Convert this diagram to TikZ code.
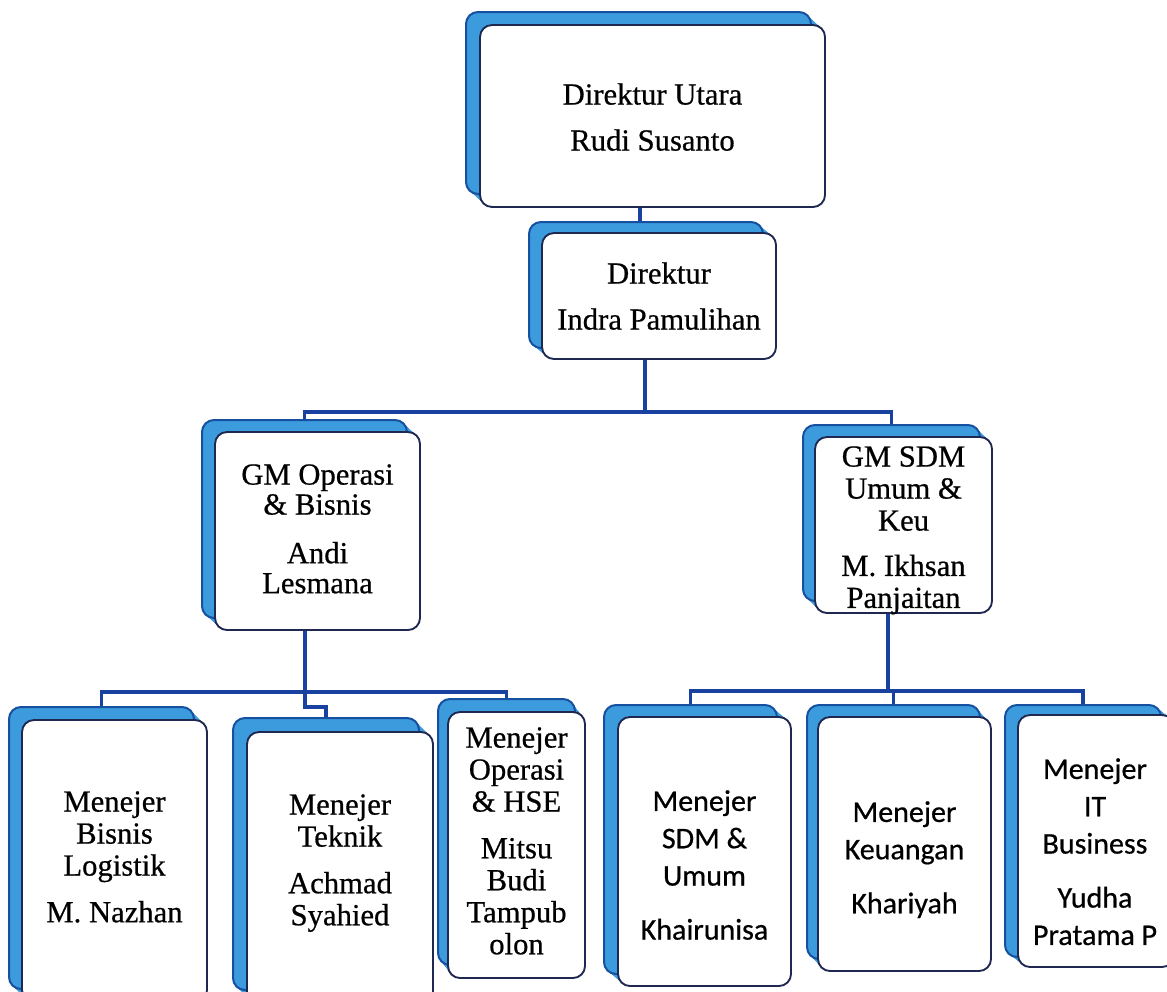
\documentclass[tikz,border=0pt]{standalone}
\usepackage{fontspec}
\setmainfont[FakeBold=0.6]{Liberation Serif}
\newfontfamily\calib[FakeBold=0.6]{Carlito}
\usetikzlibrary{calc}
\definecolor{edgeblue}{RGB}{22,80,160}
\definecolor{extblue}{RGB}{60,155,220}
\definecolor{boxline}{RGB}{30,40,80}
\definecolor{connblue}{RGB}{25,65,160}
\tikzset{
 backbox/.style={draw=edgeblue, line width=1.5pt, rounded corners=9pt, inner sep=0pt},
 frontbox/.style={draw=boxline, fill=white, line width=1.4pt, rounded corners=9pt, inner sep=0pt},
 conn/.style={draw=connblue, line width=2.8pt},
 ser/.style={anchor=north, align=center, inner sep=0pt, font=\fontsize{23}{24}\selectfont},
 sertight/.style={anchor=north, align=center, inner sep=0pt, font=\fontsize{23}{22.5}\selectfont},
 sans/.style={anchor=north, align=center, inner sep=0pt, font=\calib\fontsize{22.5}{28}\selectfont},
}
\newcommand\orgbox[7]{%
 \pgfmathsetmacro\obcx{(#2+#4)/2}%
 \pgfmathsetmacro\obcy{(#3+#5)/2}%
 \pgfmathsetmacro\obw{(#4-#2)*0.75}%
 \pgfmathsetmacro\obh{(#5-#3)*0.75}%
 \foreach \k in {1,...,14}{\fill[extblue, rounded corners=9pt] ($(#2,#3)+\k/14*(#6,#7)$) rectangle ($(#4,#5)+\k/14*(#6,#7)$);}
 \node[backbox, minimum width=\obw pt, minimum height=\obh pt] (#1s) at (\obcx+#6,\obcy+#7) {};
 \node[frontbox, minimum width=\obw pt, minimum height=\obh pt] (#1) at (\obcx,\obcy) {};
}
\begin{document}
\begin{tikzpicture}[x=0.75pt,y=-0.75pt]
\useasboundingbox (0,0) rectangle (1167,992);
\clip (0,0) rectangle (1167,992);
\fill[white] (0,0) rectangle (1167,992);
% boxes
\orgbox{b0}{480}{25}{825}{207}{-14}{-13}
\orgbox{b1}{542}{233}{776}{359}{-13}{-11}
\orgbox{b2}{215}{432}{420}{630}{-13}{-12}
\orgbox{b3}{815}{437}{992}{613}{-12}{-12}
\orgbox{b4}{22}{720}{207}{1002}{-13}{-13}
\orgbox{b5}{247}{732}{433}{1004}{-14}{-14}
\orgbox{b6}{448}{712}{585}{978}{-10}{-13}
\orgbox{b7}{618}{717}{791}{986}{-14}{-12}
\orgbox{b8}{818}{717}{991}{971}{-11}{-12}
\orgbox{b9}{1018}{715}{1174}{967}{-13}{-10}
% texts
\node[ser] (t0) at (652.5,83) {Direktur Utara\\[10.5pt]Rudi Susanto};
\node[ser] (t1) at (659,262) {Direktur\\[10.5pt]Indra Pamulihan};
\node[sertight] (t2) at (317.5,464) {GM Operasi\\\& Bisnis\\[14pt]Andi\\Lesmana};
\node[ser] (t3) at (903.5,446) {GM SDM\\Umum \&\\Keu\\[10pt]M. Ikhsan\\Panjaitan};
\node[ser] (t4) at (114.5,791) {Menejer\\Bisnis\\Logistik\\[11pt]M. Nazhan};
\node[ser] (t5) at (340,794) {Menejer\\Teknik\\[11pt]Achmad\\Syahied};
\node[ser] (t6) at (516.5,727) {Menejer\\Operasi\\\& HSE\\[11pt]Mitsu\\Budi\\Tampub\\olon};
\node[sans] (t7) at (704.5,790) {Menejer\\SDM \&\\Umum\\[12.5pt]Khairunisa};
\node[sans] (t8) at (904.5,801) {Menejer\\Keuangan\\[12.5pt]Khariyah};
\node[sans] (t9) at (1095,758) {Menejer\\IT\\Business\\[12.5pt]Yudha\\Pratama P};
% connectors
\coordinate (j0) at (640,0);
\draw[conn] (b0.south -| j0) -- (b1s.north -| j0);
\coordinate (j1) at (645,412);
\draw[conn] (b1.south -| j1) -- (j1);
\draw[conn] (j1) -| (b2s.north);
\draw[conn] (j1) -| (b3s.north);
\coordinate (j2) at (305,692);
\draw[conn] (b2.south -| j2) -- (j2);
\draw[conn] (j2) -| (b4s.north);
\draw[conn] (j2) -| (b6s.north);
\coordinate (j2b) at (305,707);
\draw[conn] (j2) -- (j2b) -| (b5s.north);
\coordinate (j3) at (888,691);
\draw[conn] (b3.south -| j3) -- (j3);
\draw[conn] (j3) -| (b7s.north);
\draw[conn] (j3) -| (b9s.north);
\draw[conn] (b8s.north |- j3) -- (b8s.north);
\end{tikzpicture}
\end{document}
